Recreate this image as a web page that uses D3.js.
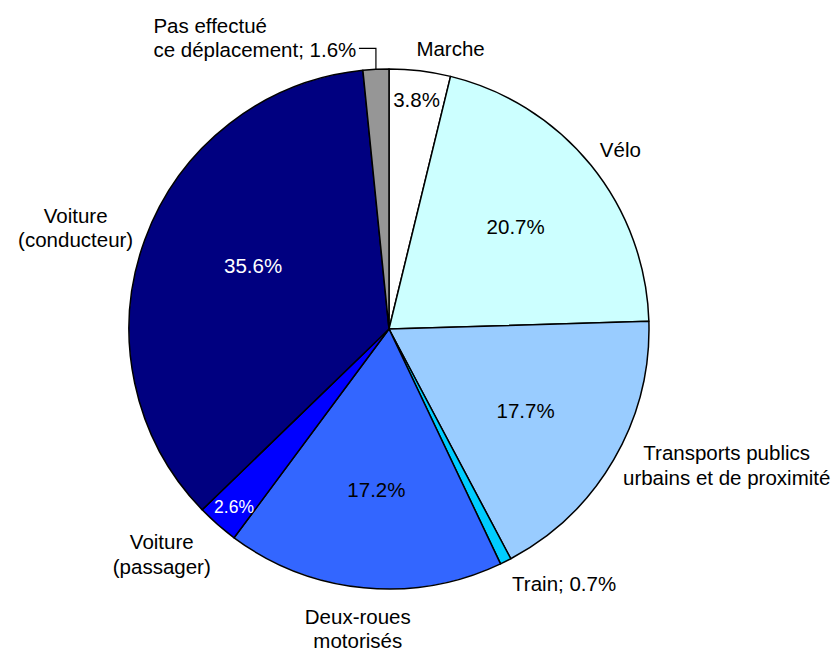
<!DOCTYPE html>
<html>
<head>
<meta charset="utf-8">
<script src="https://cdn.jsdelivr.net/npm/d3@7"></script>
<style>
  body { margin: 0; background: #fff; }
  text { font-family: "Liberation Sans", Arial, sans-serif; }
</style>
</head>
<body>
<div id="pie_chart"></div>
<script>
// data
var categories = ["Marche", "Vélo", "Transports publics urbains et de proximité", "Train",
                  "Deux-roues motorisés", "Voiture (passager)", "Voiture (conducteur)",
                  "Pas effectué ce déplacement"];
var shares = [3.8, 20.7, 17.7, 0.7, 17.2, 2.6, 35.6, 1.6];
var sliceColors = ["#ffffff", "#ccffff", "#99ccff", "#00ccff", "#3366ff", "#0000ff", "#000080", "#969696"];
var outerLines = [["Marche"], ["Vélo"], ["Transports publics", "urbains et de proximité"], ["Train; 0.7%"],
                  ["Deux-roues", "motorisés"], ["Voiture", "(passager)"], ["Voiture", "(conducteur)"],
                  ["Pas effectué", "ce déplacement; 1.6%"]];

// layout of labels (offsets from the arc centroids)
var outerNudge = [[27, 7], [6, 3], [87, -10], [45, -5], [-3, 11], [-36, 7], [-41, -2], [-221, -2]];
var innerLayout = [
  {r: 231, dx: 0, dy: 0, fill: "#000", size: 20.5},
  {r: 163, dx: 0, dy: 0, fill: "#000", size: 20.5},
  {r: 158, dx: 0, dy: 2, fill: "#000", size: 20.5},
  null,
  {r: 160, dx: 3, dy: 1, fill: "#000", size: 20.5},
  {r: 235, dx: 0, dy: 1, fill: "#fff", size: 17.5},
  {r: 150, dx: 5, dy: -12, fill: "#fff", size: 20.5},
  null
];

var width = 835, height = 651,
    cx = 389, cy = 329, radius = 260;

var svg = d3.select("#pie_chart")
  .append("svg")
    .attr("width", width)
    .attr("height", height)
  .append("g")
    .attr("transform", "translate(" + cx + "," + cy + ")");

var pie = d3.pie().sort(null).value(function(d) { return d; });
var arcs = pie(shares);

var arc = d3.arc().innerRadius(0).outerRadius(radius);
var outerArc = d3.arc().innerRadius(290).outerRadius(290);

// slices
svg.selectAll("path.slice")
  .data(arcs)
  .enter()
  .append("path")
    .attr("class", "slice")
    .attr("d", arc)
    .attr("fill", function(d, i) { return sliceColors[i]; })
    .attr("stroke", "#000")
    .attr("stroke-width", 1.5)
    .attr("stroke-linejoin", "round");

// percentages inside
arcs.forEach(function(d, i) {
  var L = innerLayout[i];
  if (!L) return;
  var p = d3.arc().innerRadius(L.r).outerRadius(L.r).centroid(d);
  svg.append("text")
    .attr("x", p[0] + L.dx)
    .attr("y", p[1] + L.dy)
    .attr("text-anchor", "middle")
    .attr("dominant-baseline", "central")
    .attr("font-size", L.size)
    .attr("fill", L.fill)
    .text(shares[i].toFixed(1) + "%");
});

// category labels outside
arcs.forEach(function(d, i) {
  var p = outerArc.centroid(d);
  var lines = outerLines[i];
  var last = i === arcs.length - 1;
  var lineH = 24.5;
  var t = svg.append("text")
    .attr("font-size", 20.5)
    .attr("fill", "#000")
    .attr("text-anchor", last ? "start" : "middle");
  lines.forEach(function(s, k) {
    t.append("tspan")
      .attr("x", p[0] + outerNudge[i][0])
      .attr("y", p[1] + outerNudge[i][1] + (k - (lines.length - 1) / 2) * lineH)
      .attr("dominant-baseline", "central")
      .text(s);
  });
});

// leader line for the small grey slice
var lastArc = arcs[arcs.length - 1];
var edge = d3.arc().innerRadius(radius).outerRadius(radius).centroid(lastArc);
svg.append("path")
  .attr("d", "M" + edge[0] + "," + edge[1] + "V" + (edge[1] - 21) + "H" + (edge[0] - 17))
  .attr("fill", "none")
  .attr("stroke", "#000")
  .attr("stroke-width", 1.2);
</script>
</body>
</html>
